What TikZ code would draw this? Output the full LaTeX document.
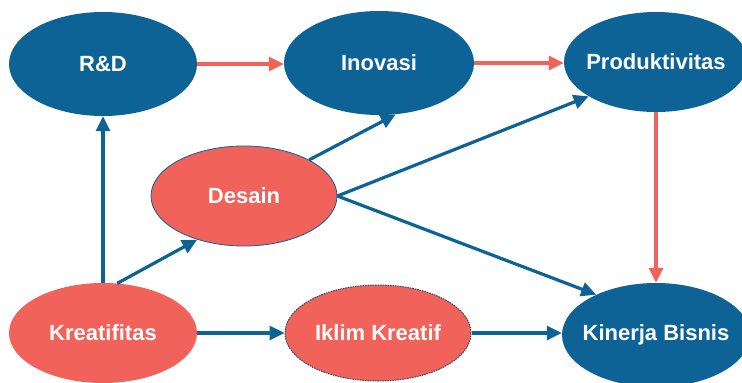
\documentclass[tikz,border=0pt]{standalone}
\usepackage{fontspec}
\setmainfont{Liberation Sans}
\usetikzlibrary{shapes.geometric,arrows.meta}
\definecolor{cblue}{RGB}{14,99,150}
\definecolor{cred}{RGB}{240,98,90}
\definecolor{cnavy}{RGB}{40,70,110}
\newcommand\ctext[1]{\makebox[0pt]{#1}}
\tikzset{
  ell/.style={ellipse, inner sep=0pt, text=white, font=\bfseries\fontsize{22}{26}\selectfont},
  bl/.style={ell, fill=cblue},
  rd/.style={ell, fill=cred},
  conn/.style={line width=3.2pt, -{Triangle[length=15pt,width=14pt]}},
  bconn/.style={conn, draw=cblue},
  rconn/.style={conn, draw=cred},
}
\begin{document}
\begin{tikzpicture}[x=1pt,y=-1pt]
\useasboundingbox (0,0) rectangle (742,383);
\node[bl, minimum width=188pt, minimum height=104pt] (rdn) at (103,64) {\ctext{R\&D}};
\node[bl, minimum width=190pt, minimum height=104pt] (ino) at (379,63) {\ctext{Inovasi}};
\node[bl, minimum width=184pt, minimum height=100pt] (prod) at (656,62) {\ctext{Produktivitas}};
\node[rd, draw=cblue, line width=0.8pt, minimum width=186pt, minimum height=100pt] (des) at (244,196) {\ctext{Desain}};
\node[rd, minimum width=188pt, minimum height=100pt] (kre) at (103,333) {\ctext{Kreatifitas}};
\node[rd, draw=cnavy, line width=1pt, dash pattern=on 1.5pt off 1pt, minimum width=186pt, minimum height=96pt] (ikl) at (378,333) {\ctext{Iklim Kreatif}};
\node[bl, minimum width=188pt, minimum height=104pt] (kin) at (656,335) {\ctext{Kinerja Bisnis}};
\draw[rconn] (rdn.east) -- (ino.west |- rdn.east);
\draw[rconn] (ino.east) -- (prod.west |- ino.east);
\draw[rconn] (prod.south) -- (kin.north);
\draw[bconn] (kre.north) -- (rdn.south);
\draw[bconn] (kre.74) -- (des.223);
\draw[bconn] (des.29) -- (ino.-72);
\draw[bconn] (des.east) -- (prod.207);
\draw[bconn] (des.east) -- (kin.146);
\draw[bconn] (kre.east) -- (ikl.west);
\draw[bconn] (ikl.east) -- (kin.west |- ikl.east);
\end{tikzpicture}
\end{document}
